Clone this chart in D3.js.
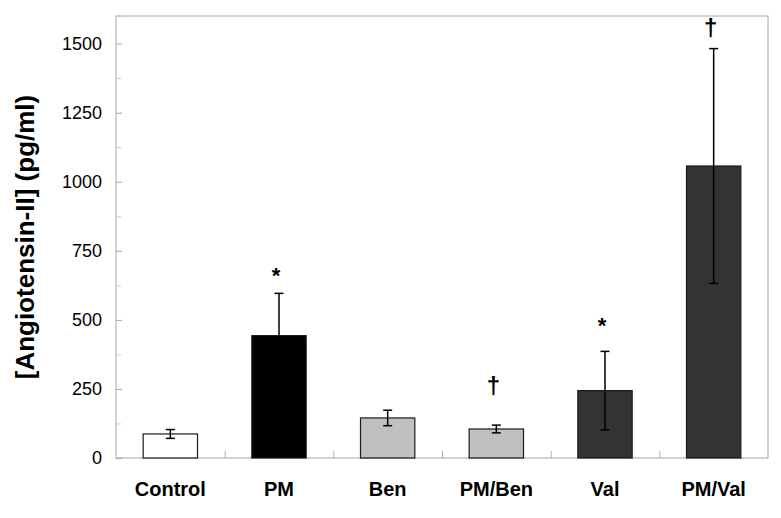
<!DOCTYPE html>
<html>
<head>
<meta charset="utf-8">
<script src="https://cdn.jsdelivr.net/npm/d3@7"></script>
<style>
  body { margin: 0; background: #fff; }
  svg { font-family: "Liberation Sans", Arial, sans-serif; }
</style>
</head>
<body>
<div id="chart"></div>
<script>
var groups = ["Control", "PM", "Ben", "PM/Ben", "Val", "PM/Val"];
var means  = [87, 443, 145, 105, 244, 1057];
var errors = [16, 153, 28, 14, 142, 425];
var fills  = ["#ffffff", "#000000", "#c0c0c0", "#c0c0c0", "#333333", "#333333"];
// significance marks: group, symbol, height (in data units) of the mark centre
var markGroups  = ["PM", "PM/Ben", "Val", "PM/Val"];
var markSymbols = ["*", "\u2020", "*", "\u2020"];
var markLevels  = [690, 262, 510, 1558];
var yTicks = [0, 250, 500, 750, 1000, 1250, 1500];
var yMinorTicks = [125, 375, 625, 875, 1125, 1375, 1600];

var config = { top: 16, right: 13, bottom: 60, left: 116, width: 652, height: 442 };

var svg = d3.select("#chart").append("svg")
    .attr("width", config.width + config.left + config.right)
    .attr("height", config.height + config.top + config.bottom)
  .append("g")
    .attr("transform", "translate(" + config.left + "," + config.top + ")");

var x = d3.scaleBand()
    .domain(groups)
    .range([0, config.width])
    .paddingInner(0.5)
    .paddingOuter(0.25);

var y = d3.scaleLinear()
    .domain([0, 1600])
    .range([config.height, 0]);

// frame
svg.append("rect")
    .attr("width", config.width)
    .attr("height", config.height)
    .attr("fill", "none")
    .attr("stroke", "#a6a6a6")
    .attr("stroke-width", 1);

// y axis, ticks pointing inward
var gy = svg.append("g")
    .call(d3.axisLeft(y).tickValues(yTicks).tickSize(-6).tickPadding(14).tickFormat(d3.format("d")));
gy.select(".domain").remove();
gy.selectAll("line").attr("stroke", "#a6a6a6");
gy.selectAll("text").attr("font-size", 18).attr("fill", "#000")
    .attr("font-family", "Liberation Sans, Arial, sans-serif");

var gyMinor = svg.append("g")
    .call(d3.axisLeft(y).tickValues(yMinorTicks).tickSize(-5).tickFormat(""));
gyMinor.select(".domain").remove();
gyMinor.selectAll("line").attr("stroke", "#c8c8c8");

// category separators on the x axis
var sep = d3.scaleLinear().domain([0, groups.length]).range([0, config.width]);
var gsep = svg.append("g")
    .attr("transform", "translate(0," + config.height + ")")
    .call(d3.axisBottom(sep).tickValues(d3.range(1, groups.length)).tickSize(-7).tickFormat(""));
gsep.select(".domain").remove();
gsep.selectAll("line").attr("stroke", "#b0b0b0");

// x labels
var gx = svg.append("g")
    .attr("transform", "translate(0," + config.height + ")")
    .call(d3.axisBottom(x).tickSize(0).tickPadding(24));
gx.select(".domain").remove();
gx.selectAll("text").attr("font-size", 20).attr("font-weight", "bold").attr("fill", "#000")
    .attr("font-family", "Liberation Sans, Arial, sans-serif");

// bars
svg.selectAll(".bar")
    .data(groups)
  .enter().append("rect")
    .attr("class", "bar")
    .attr("x", function (d) { return x(d); })
    .attr("width", x.bandwidth())
    .attr("y", function (d, i) { return y(means[i]); })
    .attr("height", function (d, i) { return y(0) - y(means[i]); })
    .attr("fill", function (d, i) { return fills[i]; })
    .attr("stroke", "#1a1a1a")
    .attr("stroke-width", 1.2);

// error bars
var cap = 4.5;
var eb = svg.selectAll(".err")
    .data(groups)
  .enter().append("g")
    .attr("class", "err")
    .attr("stroke", "#000")
    .attr("stroke-width", 1.5);
eb.append("line")
    .attr("x1", function (d) { return x(d) + x.bandwidth() / 2; })
    .attr("x2", function (d) { return x(d) + x.bandwidth() / 2; })
    .attr("y1", function (d, i) { return y(means[i] - errors[i]); })
    .attr("y2", function (d, i) { return y(means[i] + errors[i]); });
eb.append("line")
    .attr("x1", function (d) { return x(d) + x.bandwidth() / 2 - cap; })
    .attr("x2", function (d) { return x(d) + x.bandwidth() / 2 + cap; })
    .attr("y1", function (d, i) { return y(means[i] + errors[i]); })
    .attr("y2", function (d, i) { return y(means[i] + errors[i]); });
eb.append("line")
    .attr("x1", function (d) { return x(d) + x.bandwidth() / 2 - cap; })
    .attr("x2", function (d) { return x(d) + x.bandwidth() / 2 + cap; })
    .attr("y1", function (d, i) { return y(means[i] - errors[i]); })
    .attr("y2", function (d, i) { return y(means[i] - errors[i]); });

// significance marks
svg.selectAll(".mark")
    .data(markGroups)
  .enter().append("text")
    .attr("class", "mark")
    .attr("x", function (d) { return x(d) + x.bandwidth() / 2 - 3; })
    .attr("y", function (d, i) { return y(markLevels[i]); })
    .attr("dy", function (d, i) { return markSymbols[i] == "*" ? "0.72em" : "0.35em"; })
    .attr("text-anchor", "middle")
    .attr("font-weight", "bold")
    .attr("font-size", function (d, i) { return markSymbols[i] == "*" ? 22 : 24; })
    .text(function (d, i) { return markSymbols[i]; });

// y title
svg.append("text")
    .attr("transform", "translate(" + (34 - config.left) + "," + (config.height / 2) + ") rotate(-90)")
    .attr("text-anchor", "middle")
    .attr("font-size", 26)
    .attr("font-weight", "bold")
    .text("[Angiotensin-II] (pg/ml)");
</script>
</body>
</html>
